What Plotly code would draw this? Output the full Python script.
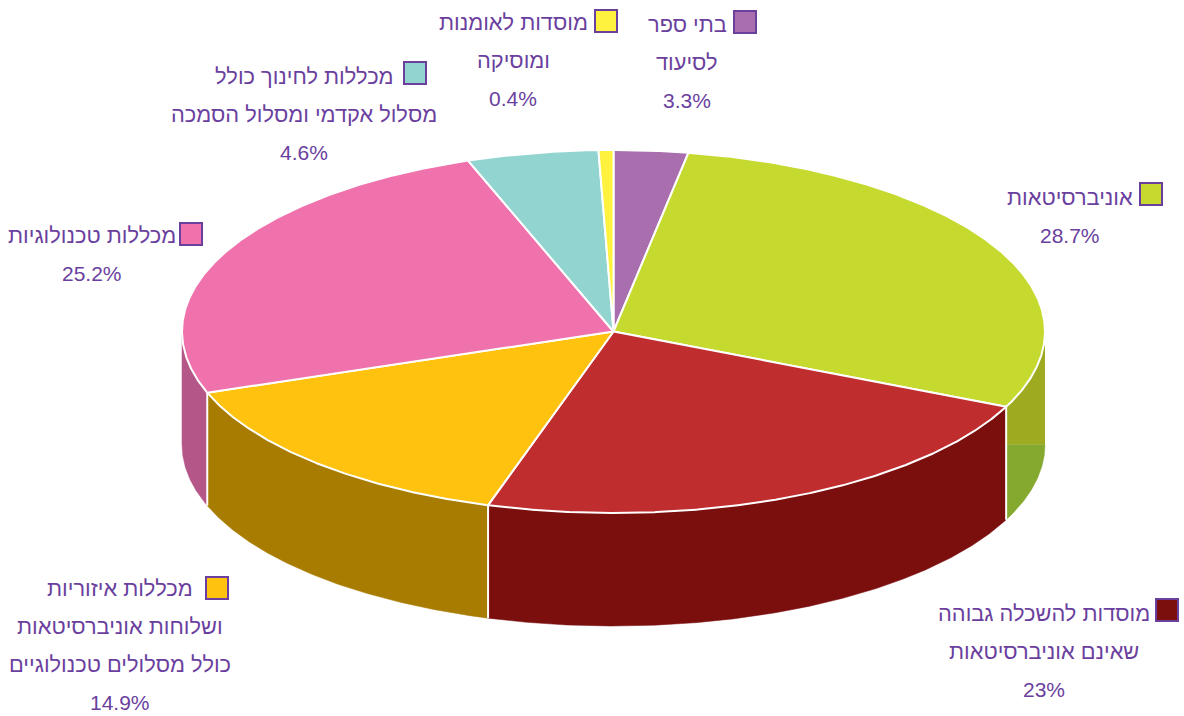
import numpy as np
import plotly.graph_objects as go

# ---- data ----
label_lines = [
    ["בתי ספר", "לסיעוד"],
    ["אוניברסיטאות"],
    ["מוסדות להשכלה גבוהה", "שאינם אוניברסיטאות"],
    ["מכללות איזוריות", "ושלוחות אוניברסיטאות", "כולל מסלולים טכנולוגיים"],
    ["מכללות טכנולוגיות"],
    ["מכללות לחינוך כולל", "מסלול אקדמי ומסלול הסמכה"],
    ["מוסדות לאומנות", "ומוסיקה"],
]
value_labels = ["3.3%", "28.7%", "23%", "14.9%", "25.2%", "4.6%", "0.4%"]
# slice sweeps as drawn in the reference, in degrees, clockwise from 12 o'clock
drawn_sweep_deg = [10.0, 104.5, 82.4, 53.4, 90.0, 17.7, 2.0]
top_colors = ["#a96eae", "#c6d92e", "#c02d2f", "#ffc20e", "#ef72ac", "#92d4d0", "#fff23e"]
wall_colors = ["#a96eae", "#9eaa20", "#7b0f0e", "#a87c00", "#b55688", "#92d4d0", "#fff23e"]
swatch_colors = ["#a96eae", "#c6d92e", "#7b0f0e", "#ffc20e", "#ef72ac", "#92d4d0", "#fff23e"]
lower_green = "#85a82e"

# ---- layout of the drawing (pixels) ----
CX, CY, RX, RY, DEPTH = 613.5, 331.5, 431.5, 181.5, 113
TEXT = "#6a3f9e"
FONT = "Liberation Sans"
FONT_SIZE = 21.8
VALUE_SIZE = 21
swatch_xy = [(745, 22), (1151, 194), (1167, 610), (217, 588), (191, 234), (415, 73), (606, 21)]
text_x = [687, 1070, 1044, 120, 92, 304, 513]
text_y0 = [24, 197, 613, 588, 235, 76, 22]
LINE_GAP = 38


def pt(a, dy=0.0):
    r = np.radians(a)
    return CX + RX * np.sin(r), CY - RY * np.cos(r) + dy


def arc(a0, a1, dy=0.0):
    a = np.linspace(a0, a1, max(int(abs(a1 - a0) * 4), 2))
    return pt(a, dy)


edges = np.concatenate([[0], np.cumsum(drawn_sweep_deg)])
fig = go.Figure()


def poly(x, y, fill, lw=0):
    fig.add_trace(go.Scatter(
        x=list(x), y=list(y), mode="lines", fill="toself", fillcolor=fill,
        line=dict(color="white" if lw else fill, width=lw or 0.5),
        hoverinfo="skip", showlegend=False))


# front walls
for i, col in enumerate(wall_colors):
    a0, a1 = max(edges[i], 90), min(edges[i + 1], 270)
    if a1 <= a0:
        continue
    tx, ty = arc(a0, a1)
    bx, by = arc(a1, a0, DEPTH)
    if i == 1:  # the green wall changes tone at the level of the lower rim's tip
        poly(np.r_[tx, tx[-1], tx[0]], np.r_[ty, CY + DEPTH, CY + DEPTH], col)
        lx, ly = arc(a0, a1, DEPTH)
        poly(np.r_[lx, lx[-1]], np.r_[ly, CY + DEPTH], lower_green)
    else:
        poly(np.r_[tx, bx], np.r_[ty, by], col)

# white verticals where walls meet
for e in edges:
    if 90 < e < 270:
        x0, y0 = pt(e)
        x1, y1 = pt(e, DEPTH)
        fig.add_trace(go.Scatter(x=[x0, x1], y=[y0, y1], mode="lines",
                                 line=dict(color="white", width=2),
                                 hoverinfo="skip", showlegend=False))

# top face
for i, col in enumerate(top_colors):
    x, y = arc(edges[i], edges[i + 1])
    poly(np.r_[CX, x, CX], np.r_[CY, y, CY], col, lw=2)

# legend swatches
fig.add_trace(go.Scatter(
    x=[p[0] for p in swatch_xy], y=[p[1] for p in swatch_xy], mode="markers",
    marker=dict(symbol="square", size=22, color=swatch_colors, line=dict(color=TEXT, width=2)),
    hoverinfo="skip", showlegend=False))

# labels
for i, lines in enumerate(label_lines):
    rows = lines + [value_labels[i]]
    for j, row in enumerate(rows):
        fig.add_annotation(x=text_x[i], y=text_y0[i] + j * LINE_GAP, text=row,
                           showarrow=False, xanchor="center", yanchor="middle",
                           font=dict(family=FONT, size=VALUE_SIZE if j == len(lines) else FONT_SIZE, color=TEXT))

fig.update_layout(
    width=1184, height=716, margin=dict(l=0, r=0, t=0, b=0),
    paper_bgcolor="white", plot_bgcolor="white",
    xaxis=dict(range=[0, 1184], visible=False, fixedrange=True),
    yaxis=dict(range=[716, 0], visible=False, fixedrange=True),
)
fig.write_html("out.html", post_script="document.body.style.margin='0';document.body.style.overflow='hidden';",
               config={"displayModeBar": False})
